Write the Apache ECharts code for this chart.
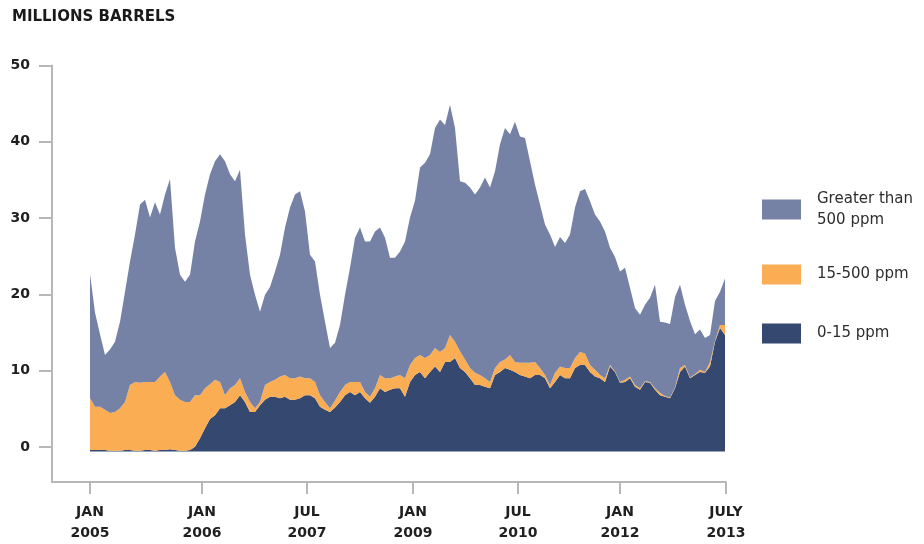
<!DOCTYPE html>
<html>
<head>
<meta charset="utf-8">
<script src="https://cdn.jsdelivr.net/npm/echarts@6/dist/echarts.min.js"></script>
<style>
  html, body { margin: 0; padding: 0; background: #ffffff; }
  #chart { width: 924px; height: 544px; }
</style>
</head>
<body>
<div id="chart"></div>
<script>
// Distillate stocks by sulfur grade, millions of barrels, sampled along the period.
const seriesNames = ['Greater than\n500 ppm', '15-500 ppm', '0-15 ppm'];

// 0-15 ppm (ultra-low sulfur)
const ulsd = [
  0.2, 0.2, 0.2, 0.2, 0.1, 0.1, 0.1, 0.2, 0.2, 0.1,
  0.1, 0.2, 0.2, 0.1, 0.2, 0.2, 0.3, 0.2, 0.1, 0.1,
  0.2, 0.6, 1.7, 3.0, 4.2, 4.7, 5.6, 5.6, 6.0, 6.4,
  7.3, 6.4, 5.1, 5.1, 6.0, 6.7, 7.1, 7.1, 6.9, 7.1,
  6.7, 6.7, 6.9, 7.3, 7.3, 6.9, 5.8, 5.4, 5.1, 5.7,
  6.4, 7.3, 7.7, 7.3, 7.7, 6.9, 6.3, 7.1, 8.2, 7.7,
  8.0, 8.2, 8.2, 7.1, 9.0, 9.9, 10.3, 9.5, 10.3, 11.0,
  10.3, 11.6, 11.6, 12.1, 10.8, 10.3, 9.5, 8.6, 8.6, 8.4,
  8.2, 9.9, 10.3, 10.8, 10.6, 10.3, 9.9, 9.7, 9.5, 9.9,
  9.9, 9.5, 8.2, 9.0, 9.9, 9.5, 9.5, 10.8, 11.2, 11.2,
  10.3, 9.7, 9.5, 9.0, 11.0, 10.3, 8.9, 9.0, 9.5, 8.4,
  8.0, 9.0, 8.9, 8.0, 7.3, 7.1, 6.9, 8.2, 10.3, 11.0,
  9.5, 9.9, 10.3, 10.2, 11.0, 14.2, 16.0, 15.1
];

// 15-500 ppm (low sulfur)
const lsd = [
  6.7, 5.6, 5.6, 5.2, 4.9, 5.0, 5.5, 6.2, 8.4, 8.9,
  8.8, 8.8, 8.8, 8.9, 9.5, 10.1, 8.7, 7.1, 6.6, 6.3,
  6.2, 6.7, 5.6, 5.2, 4.5, 4.6, 3.4, 1.7, 2.2, 2.2,
  2.2, 1.3, 1.3, 0.5, 0.4, 1.9, 1.9, 2.2, 2.8, 2.8,
  2.8, 2.8, 2.8, 2.2, 2.2, 2.1, 1.5, 1.0, 0.5, 0.9,
  1.3, 1.3, 1.3, 1.7, 1.3, 0.8, 0.8, 1.1, 1.7, 1.8,
  1.5, 1.5, 1.7, 2.4, 2.2, 2.2, 2.2, 2.6, 2.2, 2.4,
  2.6, 1.8, 3.5, 2.1, 2.2, 1.6, 1.3, 1.6, 1.3, 1.1,
  0.8, 0.9, 1.3, 1.1, 1.9, 1.3, 1.6, 1.8, 2.0, 1.7,
  0.9, 0.4, 0.4, 1.2, 1.1, 1.3, 1.3, 1.3, 1.7, 1.5,
  0.9, 0.9, 0.4, 0.5, 0.2, 0.1, 0.1, 0.3, 0.2, 0.2,
  0.2, 0.1, 0.1, 0.2, 0.3, 0.1, 0.1, 0.1, 0.5, 0.2,
  0.1, 0.1, 0.3, 0.1, 0.6, 0.1, 0.4, 1.3
];

// Greater than 500 ppm (high sulfur)
const hsd = [
  16.1, 12.2, 9.4, 7.1, 8.2, 9.1, 11.2, 14.3, 16.0, 19.1,
  23.1, 23.6, 21.3, 23.3, 21.0, 23.0, 26.3, 19.1, 16.2, 15.6,
  16.5, 19.9, 22.5, 25.1, 27.2, 28.3, 29.5, 30.3, 27.7, 26.4,
  27.0, 20.4, 16.5, 14.7, 11.7, 11.7, 12.3, 14.0, 15.8, 19.1,
  22.1, 23.8, 24.0, 21.6, 16.0, 15.6, 13.0, 10.4, 7.8, 7.5,
  8.7, 11.7, 14.8, 18.7, 20.0, 19.5, 20.1, 20.3, 19.1, 18.2,
  15.6, 15.4, 16.0, 17.7, 19.1, 20.4, 24.3, 25.3, 26.0, 28.5,
  30.1, 28.9, 29.8, 27.7, 22.0, 22.9, 23.4, 23.1, 24.3, 26.0,
  25.2, 25.5, 28.2, 30.0, 28.6, 31.1, 29.3, 29.1, 26.1, 23.0,
  21.2, 19.5, 19.5, 16.3, 16.8, 16.2, 17.3, 19.5, 20.8, 21.3,
  21.2, 20.1, 19.9, 19.0, 15.2, 14.8, 14.3, 14.5, 11.5, 10.0,
  9.5, 9.9, 10.9, 13.4, 9.2, 9.5, 9.5, 11.7, 10.8, 7.8,
  7.3, 5.2, 5.2, 4.4, 3.5, 5.2, 4.3, 6.0
];

// Sample positions (one category per sample)
const samples = ulsd.map((_, i) => String(i));

// Date ticks along the sample axis
const tickLabels = ['JAN\n2005', 'JAN\n2006', 'JUL\n2007', 'JAN\n2009', 'JUL\n2010', 'JAN\n2012', 'JULY\n2013'];
const tickSamples = [0, 22.4, 43.4, 64.6, 85.6, 106, 127.2];
const valueTicks = [0, 10, 20, 30, 40, 50];

const colors = { high: '#7682a5', low: '#faad52', ultra: '#354870' };
const axisGrey = '#b7b7b7';
const labelFont = { fontFamily: 'DejaVu Sans', fontWeight: 'bold', fontSize: 14, color: '#1f1f1f' };
const Y_MIN = -4.6, Y_MAX = 50;

function areaSeries(name, data, color) {
  return {
    name: name,
    type: 'line',
    stack: 'stocks',
    xAxisIndex: 0,
    yAxisIndex: 0,
    data: data,
    symbol: 'none',
    lineStyle: { width: 0, opacity: 0 },
    areaStyle: { color: color, opacity: 1 },
    itemStyle: { color: color },
    emphasis: { disabled: true },
    silent: true
  };
}

function legendFor(name, top, twoLine) {
  return {
    data: [name],
    left: 762,
    top: top,
    orient: 'vertical',
    padding: 0,
    icon: 'rect',
    itemWidth: 39,
    itemHeight: 20,
    selectedMode: false,
    textStyle: {
      fontFamily: 'DejaVu Sans',
      fontSize: 15,
      color: '#2e2e2e',
      lineHeight: 21,
      padding: twoLine ? [21, 0, 0, 11] : [0, 0, 0, 11]
    }
  };
}

const chart = echarts.init(document.getElementById('chart'), null, { renderer: 'canvas' });

chart.setOption({
  animation: false,
  backgroundColor: '#ffffff',
  title: {
    text: 'MILLIONS BARRELS',
    left: 12,
    top: 10,
    padding: 0,
    textStyle: { fontFamily: 'DejaVu Sans', fontWeight: 'bold', fontSize: 15, color: '#1a1a1a' }
  },
  legend: [
    legendFor(seriesNames[0], 178, true),
    legendFor(seriesNames[1], 264, false),
    legendFor(seriesNames[2], 323, false)
  ],
  grid: [
    // plotting area for the stacked areas
    { left: 90, right: 199, top: 65.5, bottom: 57, containLabel: false },
    // frame carrying the visible axes
    { left: 52, right: 198, top: 65.5, bottom: 57, containLabel: false }
  ],
  xAxis: [
    {
      type: 'category',
      gridIndex: 0,
      data: samples,
      boundaryGap: false,
      show: false
    },
    {
      type: 'value',
      gridIndex: 1,
      min: -7.6,
      max: 127.2,
      splitLine: { show: false },
      axisLine: { show: true, onZero: false, lineStyle: { color: axisGrey, width: 2 } },
      axisTick: { show: true, length: 12, customValues: tickSamples, lineStyle: { color: axisGrey, width: 2 } },
      axisLabel: {
        customValues: tickSamples,
        margin: 20,
        lineHeight: 21,
        align: 'center',
        ...labelFont,
        formatter: function (v) {
          for (let k = 0; k < tickSamples.length; k++) {
            if (Math.abs(tickSamples[k] - v) < 0.01) return tickLabels[k];
          }
          return '';
        }
      }
    }
  ],
  yAxis: [
    {
      type: 'value',
      gridIndex: 0,
      min: Y_MIN,
      max: Y_MAX,
      show: false
    },
    {
      type: 'value',
      gridIndex: 1,
      min: Y_MIN,
      max: Y_MAX,
      splitLine: { show: false },
      axisLine: { show: true, onZero: false, lineStyle: { color: axisGrey, width: 2 } },
      axisTick: { show: true, length: 13, customValues: valueTicks, lineStyle: { color: axisGrey, width: 2 } },
      axisLabel: {
        customValues: valueTicks,
        margin: 22,
        ...labelFont
      }
    }
  ],
  series: [
    areaSeries(seriesNames[2], ulsd, colors.ultra),
    areaSeries(seriesNames[1], lsd, colors.low),
    areaSeries(seriesNames[0], hsd, colors.high)
  ]
});
</script>
</body>
</html>
